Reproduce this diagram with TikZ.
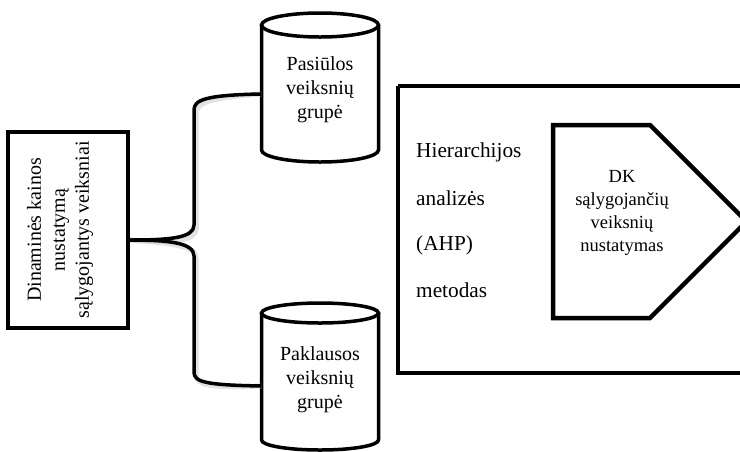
\documentclass[tikz,border=0pt]{standalone}
\usepackage{fontspec}
\setmainfont{Liberation Serif}
\begin{document}
\begin{tikzpicture}[x=1pt,y=-1pt,
  box/.style={draw=black,line width=4pt},
  tank/.style={draw=black,line width=3.5pt},
  frame/.style={draw=black,line width=4.5pt},
  link/.style={draw=black,line width=3.5pt,line join=round},
  linkshadow/.style={draw=black!25,line width=5pt,opacity=0.45},
  bigtxt/.style={font=\fontsize{20}{24}\selectfont,align=center,inner sep=0pt},
  midtxt/.style={font=\fontsize{18.5}{23}\selectfont,align=center,inner sep=0pt},
  methodtxt/.style={font=\fontsize{21.3}{24}\selectfont,anchor=west,inner sep=0pt}]
\useasboundingbox (0,0) rectangle (740,451);

% left box with rotated caption
\node[box,minimum width=120pt,minimum height=196pt,inner sep=0pt] (lbox) at (68,230) {};
\node[bigtxt,rotate=90] (ltxt) at (60,230) {Dinaminės kainos\\nustatymą\\sąlygojantys veiksniai};

% upper tank
\path[tank,fill=white] (261.5,25) -- (261.5,150)
  arc[start angle=180,end angle=0,x radius=58.5,y radius=12] -- (378.5,25);
\draw[tank] (320,25) ellipse[x radius=58.5,y radius=12];
\node[bigtxt] (pas) at (320,90) {Pasiūlos\\veiksnių\\grupė};
\coordinate (pasW) at (261.5,94);

% lower tank
\path[tank,fill=white] (261.5,313) -- (261.5,440)
  arc[start angle=180,end angle=0,x radius=58.5,y radius=10] -- (378.5,313);
\draw[tank] (320,313) ellipse[x radius=58.5,y radius=10];
\node[bigtxt] (pak) at (320,380) {Paklausos\\veiksnių\\grupė};
\coordinate (pakW) at (261.5,386);

% brace joining the left box to both tanks
\coordinate (split) at ([yshift=-10pt]lbox.east);
\begin{scope}[shift={(2.5,3)}]
  \draw[linkshadow] (split) .. controls (170,240) and (194,238) .. (194,225)
    -- (194,110) .. controls (194,100) and (205,95) .. (pasW);
  \draw[linkshadow] (split) .. controls (170,240) and (194,243) .. (194,256)
    -- (194,372) .. controls (194,382) and (205,385) .. (pakW);
\end{scope}
\draw[link] (split) .. controls (170,240) and (194,238) .. (194,225)
  -- (194,110) .. controls (194,100) and (205,95) .. (pasW);
\draw[link] (split) .. controls (170,240) and (194,243) .. (194,256)
  -- (194,372) .. controls (194,382) and (205,385) .. (pakW);

% method frame
\draw[frame] (398,86) -- (760,86) (398,86) -- (398,373) -- (760,373);
\node[methodtxt] (m1) at (416,152) {Hierarchijos};
\node[methodtxt] (m2) at (416,198) {analizės};
\node[methodtxt] (m3) at (416,245) {(AHP)};
\node[methodtxt] (m4) at (416,290) {metodas};

% pentagon arrow
\draw[frame,line join=miter] (553,125) -- (650,125) -- (746.5,221.5) -- (650,318) -- (553,318) -- cycle;
\node[midtxt] (dk) at (622,213) {DK\\sąlygojančių\\veiksnių\\nustatymas};
\end{tikzpicture}
\end{document}
